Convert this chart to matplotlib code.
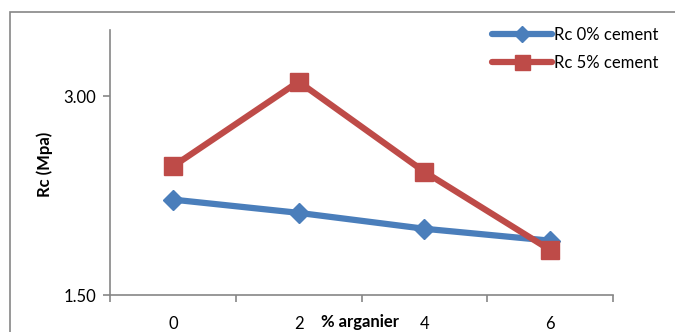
import matplotlib.pyplot as plt
from matplotlib.patches import Rectangle

plt.rcParams['font.family'] = ['Lato', 'DejaVu Sans']

categories = ['0', '2', '4', '6']
rc_0_cement = [2.22, 2.12, 2.00, 1.91]
rc_5_cement = [2.47, 3.11, 2.43, 1.84]

blue = '#4A7EBB'
red = '#BE4B48'
grey = '#868686'
fs = 12

fig = plt.figure(figsize=(6.75, 3.32), dpi=100)

# chart area border (runs off the right and bottom edges)
fig.patches.append(Rectangle((10 / 675, -0.2), 1.2, (332 - 12) / 332 + 0.2,
                             transform=fig.transFigure, fill=False,
                             edgecolor=grey, linewidth=1.2))

ax = fig.add_axes([110 / 675, 1 - 295 / 332, (613 - 110) / 675, (295 - 30) / 332])

x = range(len(categories))
ax.plot(x, rc_0_cement, color=blue, lw=4.5, marker='D', markersize=10,
        label='Rc 0% cement', solid_capstyle='round', zorder=3)
ax.plot(x, rc_5_cement, color=red, lw=4.5, marker='s', markersize=13.5,
        label='Rc 5% cement', solid_capstyle='round', zorder=4)

ax.set_xlim(-0.5, len(categories) - 0.5)
ax.set_ylim(1.5, 3.5)
ax.set_yticks([1.5, 3.0])
ax.set_yticklabels(['1.50', '3.00'])

# tick marks on category boundaries, labels at centres
ax.set_xticks([i - 0.5 for i in range(len(categories) + 1)])
ax.set_xticklabels([])
ax.set_xticks(list(x), minor=True)
ax.set_xticklabels(categories, minor=True)
ax.tick_params(axis='x', which='minor', length=0, pad=15)
ax.tick_params(axis='x', which='major', length=5, color=grey, width=1.2)
ax.tick_params(axis='y', length=5, color=grey, width=1.2, pad=5)
ax.tick_params(which='both', labelsize=fs, labelcolor='black')

for side in ['top', 'right']:
    ax.spines[side].set_visible(False)
for side in ['left', 'bottom']:
    ax.spines[side].set_color(grey)
    ax.spines[side].set_linewidth(1.2)

fig.text(45 / 675, 1 - 164 / 332, 'Rc (Mpa)', fontsize=fs, fontweight='bold',
         rotation=90, ha='center', va='center')
fig.text(360 / 675, 1 - 322 / 332, '% arganier', fontsize=fs,
         fontweight='bold', ha='center', va='center')

ax.legend(loc='upper left', bbox_to_anchor=(492 / 675, 1 - 27 / 332),
          bbox_transform=fig.transFigure, frameon=False, fontsize=fs,
          handlelength=3.6, handletextpad=0.1, labelspacing=0.7,
          borderaxespad=0, borderpad=0, markerscale=0.8)

fig.savefig('out.png', dpi=100)
